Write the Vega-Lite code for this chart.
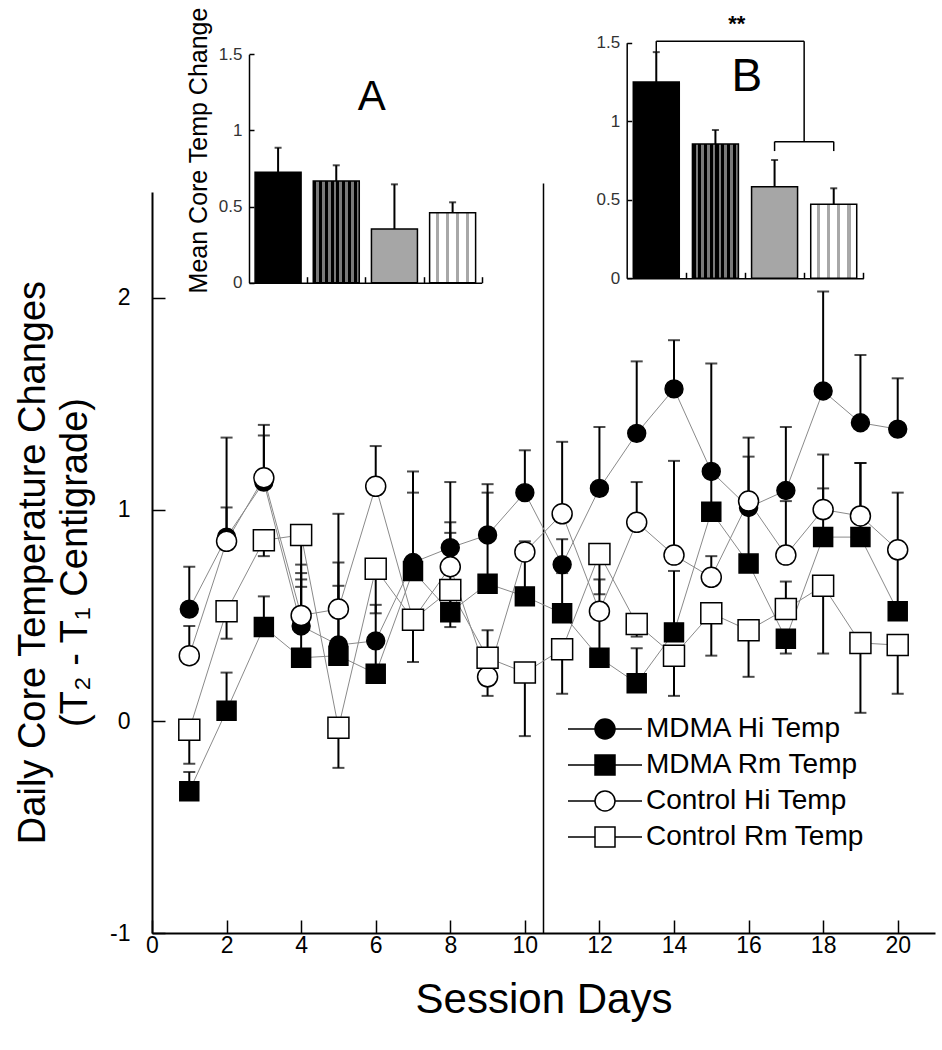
{
"$schema": "https://vega.github.io/schema/vega-lite/v6.json",
"width": 783, "height": 741,
"autosize": "none",
"padding": {"left": 152, "top": 192, "right": 7, "bottom": 117},
"background": "white",
"config": {"font": "Liberation Sans", "view": {"stroke": null}, "axis": {"grid": false, "labelFont": "Liberation Sans", "titleFont": "Liberation Sans", "titleFontWeight": "normal", "domainColor": "black", "tickColor": "black", "labelColor": "black", "titleColor": "black"}},
"datasets": {
"main": [
{"day":1,"group":"MDMA Hi Temp","mean":0.53,"err":0.73},{"day":2,"group":"MDMA Hi Temp","mean":0.87,"err":1.34},{"day":3,"group":"MDMA Hi Temp","mean":1.13,"err":1.40},{"day":4,"group":"MDMA Hi Temp","mean":0.45,"err":0.74},{"day":5,"group":"MDMA Hi Temp","mean":0.36,"err":0.75},{"day":6,"group":"MDMA Hi Temp","mean":0.38,"err":0.55},{"day":7,"group":"MDMA Hi Temp","mean":0.75,"err":1.18},{"day":8,"group":"MDMA Hi Temp","mean":0.82,"err":1.13},{"day":9,"group":"MDMA Hi Temp","mean":0.88,"err":1.12},{"day":10,"group":"MDMA Hi Temp","mean":1.08,"err":1.28},{"day":11,"group":"MDMA Hi Temp","mean":0.74,"err":0.86},{"day":12,"group":"MDMA Hi Temp","mean":1.10,"err":1.39},{"day":13,"group":"MDMA Hi Temp","mean":1.36,"err":1.70},{"day":14,"group":"MDMA Hi Temp","mean":1.57,"err":1.80},{"day":15,"group":"MDMA Hi Temp","mean":1.18,"err":1.69},{"day":16,"group":"MDMA Hi Temp","mean":1.01,"err":1.34},{"day":17,"group":"MDMA Hi Temp","mean":1.09,"err":1.39},{"day":18,"group":"MDMA Hi Temp","mean":1.56,"err":2.03},{"day":19,"group":"MDMA Hi Temp","mean":1.41,"err":1.73},{"day":20,"group":"MDMA Hi Temp","mean":1.38,"err":1.62},
{"day":1,"group":"MDMA Rm Temp","mean":-0.33,"err":-0.24},{"day":2,"group":"MDMA Rm Temp","mean":0.05,"err":0.23},{"day":3,"group":"MDMA Rm Temp","mean":0.445,"err":0.59},{"day":4,"group":"MDMA Rm Temp","mean":0.30,"err":0.67},{"day":5,"group":"MDMA Rm Temp","mean":0.31,"err":0.64},{"day":6,"group":"MDMA Rm Temp","mean":0.225,"err":0.40},{"day":7,"group":"MDMA Rm Temp","mean":0.71,"err":1.08},{"day":8,"group":"MDMA Rm Temp","mean":0.515,"err":0.89},{"day":9,"group":"MDMA Rm Temp","mean":0.65,"err":1.08},{"day":10,"group":"MDMA Rm Temp","mean":0.59,"err":0.80},{"day":11,"group":"MDMA Rm Temp","mean":0.51,"err":0.70},{"day":12,"group":"MDMA Rm Temp","mean":0.30,"err":0.50},{"day":13,"group":"MDMA Rm Temp","mean":0.18,"err":0.345},{"day":14,"group":"MDMA Rm Temp","mean":0.42,"err":0.71},{"day":15,"group":"MDMA Rm Temp","mean":0.99,"err":1.18},{"day":16,"group":"MDMA Rm Temp","mean":0.745,"err":1.00},{"day":17,"group":"MDMA Rm Temp","mean":0.39,"err":0.32},{"day":18,"group":"MDMA Rm Temp","mean":0.87,"err":1.10},{"day":19,"group":"MDMA Rm Temp","mean":0.87,"err":1.22},{"day":20,"group":"MDMA Rm Temp","mean":0.52,"err":0.81},
{"day":1,"group":"Control Hi Temp","mean":0.31,"err":0.45},{"day":2,"group":"Control Hi Temp","mean":0.85,"err":1.01},{"day":3,"group":"Control Hi Temp","mean":1.15,"err":1.35},{"day":4,"group":"Control Hi Temp","mean":0.50,"err":0.70},{"day":5,"group":"Control Hi Temp","mean":0.53,"err":0.98},{"day":6,"group":"Control Hi Temp","mean":1.11,"err":1.30},{"day":7,"group":"Control Hi Temp","mean":0.48,"err":0.48},{"day":8,"group":"Control Hi Temp","mean":0.73,"err":0.94},{"day":9,"group":"Control Hi Temp","mean":0.21,"err":0.12},{"day":10,"group":"Control Hi Temp","mean":0.80,"err":0.85},{"day":11,"group":"Control Hi Temp","mean":0.98,"err":1.32},{"day":12,"group":"Control Hi Temp","mean":0.52,"err":0.67},{"day":13,"group":"Control Hi Temp","mean":0.94,"err":1.13},{"day":14,"group":"Control Hi Temp","mean":0.785,"err":1.23},{"day":15,"group":"Control Hi Temp","mean":0.68,"err":0.78},{"day":16,"group":"Control Hi Temp","mean":1.04,"err":1.25},{"day":17,"group":"Control Hi Temp","mean":0.785,"err":1.04},{"day":18,"group":"Control Hi Temp","mean":1.00,"err":1.26},{"day":19,"group":"Control Hi Temp","mean":0.97,"err":1.22},{"day":20,"group":"Control Hi Temp","mean":0.81,"err":1.08},
{"day":1,"group":"Control Rm Temp","mean":-0.04,"err":-0.20},{"day":2,"group":"Control Rm Temp","mean":0.52,"err":0.39},{"day":3,"group":"Control Rm Temp","mean":0.855,"err":0.78},{"day":4,"group":"Control Rm Temp","mean":0.88,"err":0.635},{"day":5,"group":"Control Rm Temp","mean":-0.03,"err":-0.22},{"day":6,"group":"Control Rm Temp","mean":0.72,"err":0.51},{"day":7,"group":"Control Rm Temp","mean":0.48,"err":0.28},{"day":8,"group":"Control Rm Temp","mean":0.62,"err":0.445},{"day":9,"group":"Control Rm Temp","mean":0.30,"err":0.43},{"day":10,"group":"Control Rm Temp","mean":0.23,"err":-0.07},{"day":11,"group":"Control Rm Temp","mean":0.34,"err":0.13},{"day":12,"group":"Control Rm Temp","mean":0.79,"err":0.60},{"day":13,"group":"Control Rm Temp","mean":0.46,"err":0.40},{"day":14,"group":"Control Rm Temp","mean":0.31,"err":0.12},{"day":15,"group":"Control Rm Temp","mean":0.51,"err":0.31},{"day":16,"group":"Control Rm Temp","mean":0.43,"err":0.21},{"day":17,"group":"Control Rm Temp","mean":0.53,"err":0.66},{"day":18,"group":"Control Rm Temp","mean":0.64,"err":0.32},{"day":19,"group":"Control Rm Temp","mean":0.37,"err":0.04},{"day":20,"group":"Control Rm Temp","mean":0.36,"err":0.13}
],
"divider": [{"x": 10.5, "y": -1, "y2": 2.54}],
"insetA": [{"bar":1,"mean":0.725,"err":0.886},{"bar":2,"mean":0.668,"err":0.771},{"bar":3,"mean":0.353,"err":0.646},{"bar":4,"mean":0.46,"err":0.528}],
"insetB": [{"bar":1,"mean":1.25,"err":1.44},{"bar":2,"mean":0.855,"err":0.944},{"bar":3,"mean":0.583,"err":0.753},{"bar":4,"mean":0.471,"err":0.573}],
"labelA": [{"label":"A","x":2.61,"y":1.22}],
"labelB": [{"label":"B","x":2.53,"y":1.28}],
"stars": [{"label":"**","x":2.36,"y":1.62}],
"bracket": [{"x":1,"x2":3.5,"y":1.51,"y2":1.51},{"x":1,"x2":1,"y":1.51,"y2":1.44},{"x":3.5,"x2":3.5,"y":1.51,"y2":0.87},{"x":3,"x2":4,"y":0.87,"y2":0.87},{"x":3,"x2":3,"y":0.87,"y2":0.81},{"x":4,"x2":4,"y":0.87,"y2":0.81}]
},
"layer": [
{"layer": [
 {"data": {"name": "divider"}, "mark": {"type": "rule", "color": "black", "strokeWidth": 1.5},
  "encoding": {
   "x": {"field": "x", "type": "quantitative", "scale": {"domain": [0, 21], "nice": false, "zero": false},
     "axis": {"orient": "bottom", "values": [0,1,2,3,4,5,6,7,8,9,10,11,12,13,14,15,16,17,18,19,20], "labelExpr": "datum.value % 2 == 0 ? datum.label : ''", "tickSize": -13, "tickWidth": 1.5, "domainWidth": 2, "labelPadding": 14, "labelFontSize": 23, "labelFlush": false, "title": "Session Days", "titleFontSize": 42, "titlePadding": 22}},
   "y": {"field": "y", "type": "quantitative", "scale": {"domain": [-1, 2.5], "nice": false, "zero": false},
     "axis": {"orient": "left", "values": [-1,0,1,2], "labelExpr": "'' + datum.value", "tickSize": -13, "tickWidth": 1.5, "domainWidth": 2, "labelPadding": 35, "labelFontSize": 23, "title": ["Daily Core Temperature Changes", "(T₂ - T₁ Centigrade)"], "titleFontSize": 38, "titleLineHeight": 42, "titleAngle": -90, "titleAlign": "center", "titleBaseline": "middle", "titleX": -119, "titleY": 370}},
   "y2": {"field": "y2"}}},
 {"data": {"name": "main"}, "mark": {"type": "rule", "color": "black", "strokeWidth": 2},
  "encoding": {"x": {"field": "day", "type": "quantitative"}, "y": {"field": "mean", "type": "quantitative"}, "y2": {"field": "err"}}},
 {"data": {"name": "main"}, "mark": {"type": "tick", "orient": "horizontal", "color": "black", "size": 12, "thickness": 2},
  "encoding": {"x": {"field": "day", "type": "quantitative"}, "y": {"field": "err", "type": "quantitative"}}},
 {"data": {"name": "main"}, "mark": {"type": "line", "color": "#8a8a8a", "strokeWidth": 1},
  "encoding": {"x": {"field": "day", "type": "quantitative"}, "y": {"field": "mean", "type": "quantitative"}, "detail": {"field": "group", "type": "nominal"}}},
 {"data": {"name": "main"}, "mark": {"type": "point", "filled": true, "opacity": 1, "stroke": "black", "strokeWidth": 1.5},
  "encoding": {
   "x": {"field": "day", "type": "quantitative"}, "y": {"field": "mean", "type": "quantitative"},
   "shape": {"field": "group", "type": "nominal", "scale": {"domain": ["MDMA Hi Temp","MDMA Rm Temp","Control Hi Temp","Control Rm Temp"], "range": ["circle","square","circle","square"]}, "legend": null},
   "fill": {"field": "group", "type": "nominal", "scale": {"domain": ["MDMA Hi Temp","MDMA Rm Temp","Control Hi Temp","Control Rm Temp"], "range": ["black","black","white","white"]}, "legend": null},
   "size": {"field": "group", "type": "nominal", "scale": {"domain": ["MDMA Hi Temp","MDMA Rm Temp","Control Hi Temp","Control Rm Temp"], "range": [320, 440, 330, 300]}, "legend": null}}},
 {"data": {"name": "main"}, "transform": [{"filter": "datum.day > 100"}],
  "mark": {"type": "point", "filled": true, "opacity": 1, "stroke": "black", "strokeWidth": 1.5},
  "encoding": {
   "x": {"field": "day", "type": "quantitative"}, "y": {"field": "mean", "type": "quantitative"},
   "shape": {"field": "group", "type": "nominal", "scale": {"domain": ["MDMA Hi Temp","MDMA Rm Temp","Control Hi Temp","Control Rm Temp"], "range": ["M-3.7,0H-1M1,0H3.7M-1,0A1,1,0,1,1,1,0A1,1,0,1,1,-1,0Z","M-3.7,0H-1M1,0H3.7M-1,-1H1V1H-1Z","M-3.7,0H-1M1,0H3.7M-1,0A1,1,0,1,1,1,0A1,1,0,1,1,-1,0Z","M-3.7,0H-1M1,0H3.7M-1,-1H1V1H-1Z"]},
     "legend": {"orient": "none", "legendX": 439, "legendY": 523, "title": null, "padding": 0, "symbolSize": 400, "symbolStrokeColor": "black", "symbolStrokeWidth": 1.5, "symbolOpacity": 1, "labelFontSize": 28, "labelOffset": 27, "labelLimit": 400, "labelColor": "black", "rowPadding": 8}},
   "fill": {"field": "group", "type": "nominal", "scale": {"domain": ["MDMA Hi Temp","MDMA Rm Temp","Control Hi Temp","Control Rm Temp"], "range": ["black","black","white","white"]},
     "legend": {"orient": "none", "legendX": 439, "legendY": 523, "title": null, "padding": 0, "symbolSize": 400, "symbolStrokeColor": "black", "symbolStrokeWidth": 1.5, "symbolOpacity": 1, "labelFontSize": 28, "labelOffset": 27, "labelLimit": 400, "labelColor": "black", "rowPadding": 8}},
   "stroke": {"field": "group", "type": "nominal", "scale": {"domain": ["MDMA Hi Temp","MDMA Rm Temp","Control Hi Temp","Control Rm Temp"], "range": ["black","black","black","black"]},
     "legend": {"orient": "none", "legendX": 439, "legendY": 523, "title": null, "padding": 0, "symbolSize": 400, "symbolStrokeColor": "black", "symbolStrokeWidth": 1.5, "symbolOpacity": 1, "labelFontSize": 28, "labelOffset": 27, "labelLimit": 400, "labelColor": "black", "rowPadding": 8}}}}
 ],
 "resolve": {"scale": {"shape": "independent", "fill": "independent", "stroke": "independent"}}
},
{"layer": [
 {"data": {"name": "insetA"}, "mark": {"type": "bar", "width": 46, "stroke": "black", "strokeWidth": 1.5},
  "encoding": {
   "x": {"field": "bar", "type": "quantitative", "scale": {"domain": [0.5, 4.5], "range": [97, 329.7], "nice": false, "zero": false, "padding": 0},
     "axis": {"orient": "bottom", "offset": -650.3, "values": [1.5,2.5,3.5,4.5], "labels": false, "tickSize": -6, "tickWidth": 1.5, "domainWidth": 1.5, "title": null}},
   "y": {"field": "mean", "type": "quantitative", "scale": {"domain": [0, 1.5], "range": [90.7, -137.7], "nice": false},
     "axis": {"orient": "left", "offset": -97, "values": [0,0.5,1,1.5], "labelExpr": "'' + datum.value", "tickSize": -5, "tickWidth": 1.5, "domainWidth": 1.5, "labelPadding": 12, "labelFontSize": 17, "labelColor": "#333", "title": "Mean Core Temp Change", "titleFontSize": 25, "titleAngle": -90, "titleAlign": "center", "titleBaseline": "middle", "titleX": -51, "titleY": -42}},
   "fill": {"condition": [
     {"test": "datum.bar == 1", "value": "black"},
     {"test": "datum.bar == 2", "value": {"gradient": "linear", "x1": 0, "x2": 1, "y1": 0, "y2": 0, "stops": [{"offset":0,"color":"black"},{"offset":0.07,"color":"black"},{"offset":0.07,"color":"#7a7a7a"},{"offset":0.125,"color":"#7a7a7a"},{"offset":0.125,"color":"black"},{"offset":0.195,"color":"black"},{"offset":0.195,"color":"#7a7a7a"},{"offset":0.25,"color":"#7a7a7a"},{"offset":0.25,"color":"black"},{"offset":0.32,"color":"black"},{"offset":0.32,"color":"#7a7a7a"},{"offset":0.375,"color":"#7a7a7a"},{"offset":0.375,"color":"black"},{"offset":0.445,"color":"black"},{"offset":0.445,"color":"#7a7a7a"},{"offset":0.5,"color":"#7a7a7a"},{"offset":0.5,"color":"black"},{"offset":0.57,"color":"black"},{"offset":0.57,"color":"#7a7a7a"},{"offset":0.625,"color":"#7a7a7a"},{"offset":0.625,"color":"black"},{"offset":0.695,"color":"black"},{"offset":0.695,"color":"#7a7a7a"},{"offset":0.75,"color":"#7a7a7a"},{"offset":0.75,"color":"black"},{"offset":0.82,"color":"black"},{"offset":0.82,"color":"#7a7a7a"},{"offset":0.875,"color":"#7a7a7a"},{"offset":0.875,"color":"black"},{"offset":0.945,"color":"black"},{"offset":0.945,"color":"#7a7a7a"},{"offset":1,"color":"#7a7a7a"}]}},
     {"test": "datum.bar == 3", "value": "#a6a6a6"}],
    "value": {"gradient": "linear", "x1": 0, "x2": 1, "y1": 0, "y2": 0, "stops": [{"offset":0,"color":"white"},{"offset":0.135,"color":"white"},{"offset":0.135,"color":"#a8a8a8"},{"offset":0.205,"color":"#a8a8a8"},{"offset":0.205,"color":"white"},{"offset":0.355,"color":"white"},{"offset":0.355,"color":"#a8a8a8"},{"offset":0.425,"color":"#a8a8a8"},{"offset":0.425,"color":"white"},{"offset":0.575,"color":"white"},{"offset":0.575,"color":"#a8a8a8"},{"offset":0.645,"color":"#a8a8a8"},{"offset":0.645,"color":"white"},{"offset":0.795,"color":"white"},{"offset":0.795,"color":"#a8a8a8"},{"offset":0.865,"color":"#a8a8a8"},{"offset":0.865,"color":"white"},{"offset":1,"color":"white"}]}}}},
 {"data": {"name": "insetA"}, "mark": {"type": "rule", "color": "black", "strokeWidth": 2},
  "encoding": {"x": {"field": "bar", "type": "quantitative"}, "y": {"field": "mean", "type": "quantitative"}, "y2": {"field": "err"}}},
 {"data": {"name": "insetA"}, "mark": {"type": "tick", "orient": "horizontal", "color": "black", "size": 7, "thickness": 2},
  "encoding": {"x": {"field": "bar", "type": "quantitative"}, "y": {"field": "err", "type": "quantitative"}}},
 {"data": {"name": "labelA"}, "mark": {"type": "text", "fontSize": 42, "color": "black", "align": "center", "baseline": "middle"},
  "encoding": {"x": {"field": "x", "type": "quantitative"}, "y": {"field": "y", "type": "quantitative"}, "text": {"field": "label"}}}
]},
{"layer": [
 {"data": {"name": "insetB"}, "mark": {"type": "bar", "width": 46, "stroke": "black", "strokeWidth": 1.5},
  "encoding": {
   "x": {"field": "bar", "type": "quantitative", "scale": {"domain": [0.5, 4.5], "range": [474.7, 711.3], "nice": false, "zero": false, "padding": 0},
     "axis": {"orient": "bottom", "offset": -654.7, "values": [1.5,2.5,3.5,4.5], "labels": false, "tickSize": -6, "tickWidth": 1.5, "domainWidth": 1.5, "title": null}},
   "y": {"field": "mean", "type": "quantitative", "scale": {"domain": [0, 1.5], "range": [86.3, -149.3], "nice": false},
     "axis": {"orient": "left", "offset": -474.7, "values": [0,0.5,1,1.5], "labelExpr": "'' + datum.value", "tickSize": -5, "tickWidth": 1.5, "domainWidth": 1.5, "labelPadding": 12, "labelFontSize": 17, "labelColor": "#333", "title": null}},
   "fill": {"condition": [
     {"test": "datum.bar == 1", "value": "black"},
     {"test": "datum.bar == 2", "value": {"gradient": "linear", "x1": 0, "x2": 1, "y1": 0, "y2": 0, "stops": [{"offset":0,"color":"black"},{"offset":0.07,"color":"black"},{"offset":0.07,"color":"#7a7a7a"},{"offset":0.125,"color":"#7a7a7a"},{"offset":0.125,"color":"black"},{"offset":0.195,"color":"black"},{"offset":0.195,"color":"#7a7a7a"},{"offset":0.25,"color":"#7a7a7a"},{"offset":0.25,"color":"black"},{"offset":0.32,"color":"black"},{"offset":0.32,"color":"#7a7a7a"},{"offset":0.375,"color":"#7a7a7a"},{"offset":0.375,"color":"black"},{"offset":0.445,"color":"black"},{"offset":0.445,"color":"#7a7a7a"},{"offset":0.5,"color":"#7a7a7a"},{"offset":0.5,"color":"black"},{"offset":0.57,"color":"black"},{"offset":0.57,"color":"#7a7a7a"},{"offset":0.625,"color":"#7a7a7a"},{"offset":0.625,"color":"black"},{"offset":0.695,"color":"black"},{"offset":0.695,"color":"#7a7a7a"},{"offset":0.75,"color":"#7a7a7a"},{"offset":0.75,"color":"black"},{"offset":0.82,"color":"black"},{"offset":0.82,"color":"#7a7a7a"},{"offset":0.875,"color":"#7a7a7a"},{"offset":0.875,"color":"black"},{"offset":0.945,"color":"black"},{"offset":0.945,"color":"#7a7a7a"},{"offset":1,"color":"#7a7a7a"}]}},
     {"test": "datum.bar == 3", "value": "#a6a6a6"}],
    "value": {"gradient": "linear", "x1": 0, "x2": 1, "y1": 0, "y2": 0, "stops": [{"offset":0,"color":"white"},{"offset":0.135,"color":"white"},{"offset":0.135,"color":"#a8a8a8"},{"offset":0.205,"color":"#a8a8a8"},{"offset":0.205,"color":"white"},{"offset":0.355,"color":"white"},{"offset":0.355,"color":"#a8a8a8"},{"offset":0.425,"color":"#a8a8a8"},{"offset":0.425,"color":"white"},{"offset":0.575,"color":"white"},{"offset":0.575,"color":"#a8a8a8"},{"offset":0.645,"color":"#a8a8a8"},{"offset":0.645,"color":"white"},{"offset":0.795,"color":"white"},{"offset":0.795,"color":"#a8a8a8"},{"offset":0.865,"color":"#a8a8a8"},{"offset":0.865,"color":"white"},{"offset":1,"color":"white"}]}}}},
 {"data": {"name": "insetB"}, "mark": {"type": "rule", "color": "black", "strokeWidth": 2},
  "encoding": {"x": {"field": "bar", "type": "quantitative"}, "y": {"field": "mean", "type": "quantitative"}, "y2": {"field": "err"}}},
 {"data": {"name": "insetB"}, "mark": {"type": "tick", "orient": "horizontal", "color": "black", "size": 7, "thickness": 2},
  "encoding": {"x": {"field": "bar", "type": "quantitative"}, "y": {"field": "err", "type": "quantitative"}}},
 {"data": {"name": "bracket"}, "mark": {"type": "rule", "color": "black", "strokeWidth": 1.5},
  "encoding": {"x": {"field": "x", "type": "quantitative"}, "x2": {"field": "x2"}, "y": {"field": "y", "type": "quantitative"}, "y2": {"field": "y2"}}},
 {"data": {"name": "labelB"}, "mark": {"type": "text", "fontSize": 46, "color": "black", "align": "center", "baseline": "middle"},
  "encoding": {"x": {"field": "x", "type": "quantitative"}, "y": {"field": "y", "type": "quantitative"}, "text": {"field": "label"}}},
 {"data": {"name": "stars"}, "mark": {"type": "text", "fontSize": 22, "fontWeight": "bold", "color": "black", "align": "center", "baseline": "middle"},
  "encoding": {"x": {"field": "x", "type": "quantitative"}, "y": {"field": "y", "type": "quantitative"}, "text": {"field": "label"}}}
]}
],
"resolve": {"scale": {"x": "independent", "y": "independent"}}
}
